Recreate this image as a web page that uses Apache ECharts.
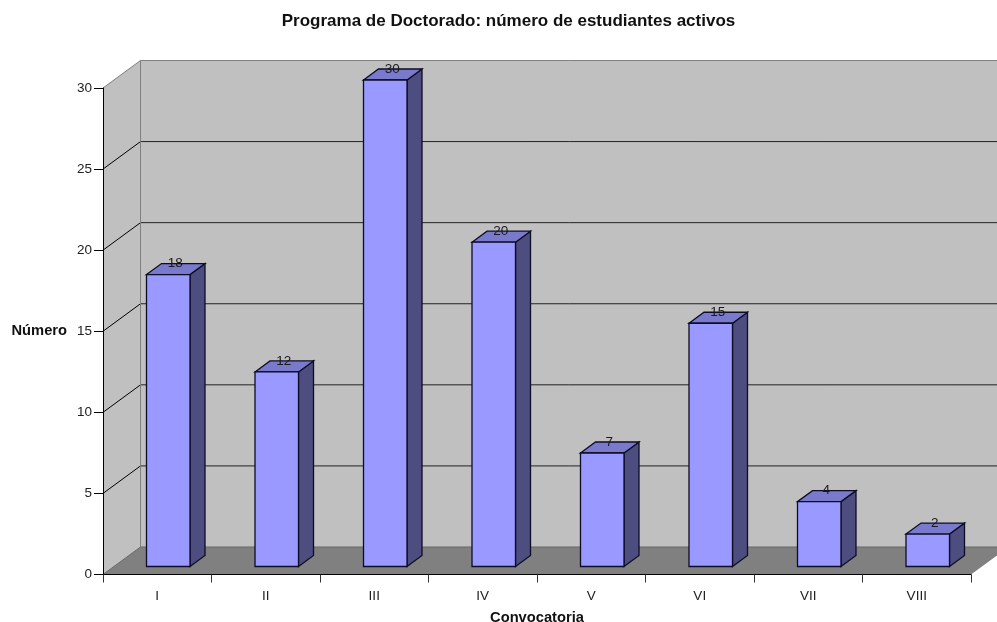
<!DOCTYPE html>
<html>
<head>
<meta charset="utf-8">
<style>html,body{margin:0;padding:0;background:#fff}#c{width:997px;height:622px}</style>
<script src="https://cdn.jsdelivr.net/npm/echarts@6/dist/echarts.min.js"></script>
</head>
<body>
<div id="c"></div>
<script>
const titleText = 'Programa de Doctorado: número de estudiantes activos';
const xName = 'Convocatoria';
const yName = 'Número';
const categories = ['I','II','III','IV','V','VI','VII','VIII'];
const values = [18,12,30,20,7,15,4,2];
const yTicks = [0,5,10,15,20,25,30];

const FONT = '"Liberation Sans", Arial, sans-serif';
const WALL_DX = 37.5, WALL_DY = -27.5;   // depth of the box
const BAR_SHIFT_X = 11, BAR_SHIFT_Y = -8; // bar front plane offset
const BAR_DX = 15, BAR_DY = -11;          // bar depth
const BAR_W = 43.5;

const chart = echarts.init(document.getElementById('c'), null, {renderer:'canvas', width:997, height:622});

function poly(points, fill, stroke, lw){
  return {type:'polygon', shape:{points}, style:{fill, stroke: stroke||'none', lineWidth: lw||0}};
}
function line(x1,y1,x2,y2,stroke,lw){
  return {type:'line', shape:{x1,y1,x2,y2}, style:{stroke, lineWidth: lw||1}};
}

function renderBox(params, api){
  const band = api.size([1,0])[0];
  const first = api.coord([0,0]);
  const last = api.coord([categories.length-1,0]);
  const top = api.coord([0,yTicks[yTicks.length-1]]);
  const xL = first[0]-band/2, xR = last[0]+band/2, y0 = first[1], yT = top[1];
  const kids = [
    poly([[xL+WALL_DX,yT+WALL_DY],[xR+WALL_DX,yT+WALL_DY],[xR+WALL_DX,y0+WALL_DY],[xL+WALL_DX,y0+WALL_DY]],'#c0c0c0'),
    poly([[xL,yT],[xL+WALL_DX,yT+WALL_DY],[xL+WALL_DX,y0+WALL_DY],[xL,y0]],'#c0c0c0'),
    poly([[xL,y0],[xL+WALL_DX,y0+WALL_DY],[xR+WALL_DX,y0+WALL_DY],[xR,y0]],'#808080')
  ];
  yTicks.forEach(t=>{
    if(t===0||t===yTicks[yTicks.length-1]) return;
    const y = api.coord([0,t])[1];
    kids.push(line(xL,y,xL+WALL_DX,y+WALL_DY,'#000',1));
    kids.push(line(xL+WALL_DX,y+WALL_DY,xR+WALL_DX,y+WALL_DY,'#222',1));
  });
  kids.push(line(xL+WALL_DX,yT+WALL_DY,xL+WALL_DX,y0+WALL_DY,'#808080',1));
  kids.push(line(xL+WALL_DX,yT+WALL_DY,xR+WALL_DX,yT+WALL_DY,'#808080',1));
  kids.push(line(xL,yT,xL+WALL_DX,yT+WALL_DY,'#808080',1));
  kids.push(line(xL+WALL_DX,y0+WALL_DY,xR+WALL_DX,y0+WALL_DY,'#666',1));
  kids.push(line(xL,y0,xL+WALL_DX,y0+WALL_DY,'#666',1));
  return {type:'group', children:kids};
}

function renderBar(params, api){
  const i = api.value(0), v = api.value(1);
  const c = api.coord([i,v]), b = api.coord([i,0]);
  const xl = c[0]+BAR_SHIFT_X-BAR_W/2, xr = xl+BAR_W;
  const yt = c[1]+BAR_SHIFT_Y, yb = b[1]+BAR_SHIFT_Y;
  const edge = '#0d0d26', w = 1.3;
  return {type:'group', children:[
    poly([[xr,yt],[xr+BAR_DX,yt+BAR_DY],[xr+BAR_DX,yb+BAR_DY],[xr,yb]],'#4d4d80',edge,w),
    poly([[xl,yt],[xl+BAR_DX,yt+BAR_DY],[xr+BAR_DX,yt+BAR_DY],[xr,yt]],'#7a7acc',edge,w),
    poly([[xl,yt],[xr,yt],[xr,yb],[xl,yb]],'#9999ff',edge,w),
    {type:'text', style:{text:String(v), x:(xl+xr)/2+BAR_DX/2-0.5, y:yt-11, align:'center', verticalAlign:'middle',
      font:'13.5px '+FONT, fill:'#1a1a1a'}}
  ]};
}

chart.setOption({
  animation:false,
  backgroundColor:'#fff',
  title:{text:titleText,left:508.5,top:13,padding:0,textAlign:'center',
    textStyle:{fontFamily:FONT,fontSize:17,fontWeight:'bold',color:'#111'}},
  grid:{left:103,right:26,top:88,bottom:47.5,containLabel:false,outerBoundsMode:'none'},
  xAxis:{type:'category',data:categories,boundaryGap:true,
    name:xName,nameLocation:'middle',nameGap:35.5,
    nameTextStyle:{fontFamily:FONT,fontSize:14.7,fontWeight:'bold',color:'#111'},
    axisLine:{lineStyle:{color:'#000',width:1}},
    axisTick:{show:true,alignWithLabel:false,length:8,lineStyle:{color:'#333'}},
    axisLabel:{fontFamily:FONT,fontSize:13.5,color:'#222',margin:15,interval:0},
    splitLine:{show:false}},
  yAxis:{type:'value',min:0,max:30,interval:5,
    name:yName,nameLocation:'middle',nameRotate:0,nameGap:36,
    nameTextStyle:{fontFamily:FONT,fontSize:14.7,fontWeight:'bold',color:'#111',align:'right',verticalAlign:'middle'},
    axisLine:{show:true,lineStyle:{color:'#000',width:1}},
    axisTick:{show:true,length:9,lineStyle:{color:'#000'}},
    axisLabel:{fontFamily:FONT,fontSize:13.5,color:'#222',margin:11},
    splitLine:{show:false}},
  series:[
    {type:'custom',name:'box',z:-1,silent:true,renderItem:renderBox,data:[[0,0]],encode:{x:0,y:1}},
    {type:'custom',name:'Estudiantes',z:3,renderItem:renderBar,
      data:values.map((v,i)=>[i,v]),encode:{x:0,y:1}}
  ]
});
</script>
</body>
</html>
